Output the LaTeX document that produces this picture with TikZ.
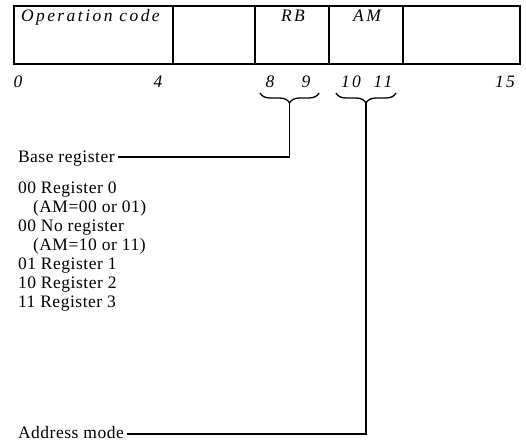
\documentclass[tikz,border=0pt]{standalone}
\usepackage{fontspec}
\setmainfont{Liberation Serif}
\newfontfamily\spacedfont[LetterSpace=14]{Liberation Serif}
\newfontfamily\legendfont[LetterSpace=3]{Liberation Serif}
\usetikzlibrary{decorations.pathreplacing}

\begin{document}
\begin{tikzpicture}[x=1pt, y=-1pt,
    every node/.style={inner sep=0pt, outer sep=0pt},
    field/.style={draw, line width=1.1pt, minimum height=58pt, anchor=north west},
    fieldname/.style={font=\fontsize{17.5}{20}\spacedfont\itshape, anchor=base},
    bitno/.style={font=\fontsize{17.5}{20}\spacedfont\itshape, anchor=base},
    entry/.style={font=\fontsize{17.5}{19}\legendfont, anchor=base west},
    lead/.style={line width=1.1pt},
    bitbrace/.style={decorate, decoration={brace, mirror, amplitude=10pt},
        line width=1.3pt}]

    \useasboundingbox (0,0) rectangle (526,441);

    % instruction word
    \node[field, minimum width=159pt] (opc) at (14,6) {};
    \node[field, minimum width=82pt] (fa) at (opc.north east) {};
    \node[field, minimum width=74pt] (rb) at (fa.north east) {};
    \node[field, minimum width=74pt] (am) at (rb.north east) {};
    \node[field, minimum width=117pt] (fb) at (am.north east) {};

    \node[fieldname, anchor=base west] (opcname) at (21,22) {Operation code};
    \node[fieldname] (rbname) at (293,22) {RB};
    \node[fieldname] (amname) at (367,22) {AM};

    % bit positions
    \foreach \n/\x in {0/18, 4/158, 8/270, 9/306, 10/351, 11/383, 15/505}
        \node[bitno] (b\n) at (\x,88) {\n};

    % braces under RB and AM
    \coordinate (rbl) at (260,93);
    \coordinate (rbr) at (319,93);
    \coordinate (rbtip) at (289.5,103);
    \coordinate (aml) at (336,93);
    \coordinate (amr) at (396,93);
    \coordinate (amtip) at (366,103);
    \draw[bitbrace] (rbl) -- (rbr);
    \draw[bitbrace] (aml) -- (amr);

    % legend
    \node[entry] (basereg) at (18,162) {Base register};
    \node[entry] (r0) at (18,193) {00 Register 0};
    \node[entry] (r0am) at (33,212) {(AM=00 or 01)};
    \node[entry] (nr) at (18,231) {00 No register};
    \node[entry] (nram) at (33,250) {(AM=10 or 11)};
    \node[entry] (r1) at (18,269) {01 Register 1};
    \node[entry] (r2) at (18,288) {10 Register 2};
    \node[entry] (r3) at (18,307) {11 Register 3};
    \node[entry] (amode) at (18,438) {Address mode};

    \draw[lead] (rbtip) |- ([xshift=3pt, yshift=5pt]basereg.base east);
    \draw[lead] (amtip) |- ([xshift=3pt, yshift=4pt]amode.base east);
\end{tikzpicture}
\end{document}
